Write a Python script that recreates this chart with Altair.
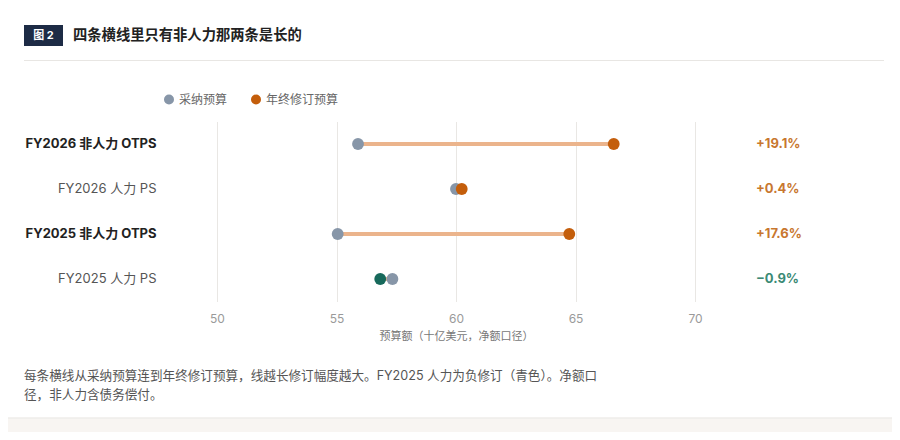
import altair as alt
import pandas as pd

# ---- data ----
rows = ["FY2026 非人力 OTPS", "FY2026 人力 PS", "FY2025 非人力 OTPS", "FY2025 人力 PS"]
adopted = [55.9, 60.0, 55.05, 57.34]
revised = [66.6, 60.24, 64.74, 56.83]
pct_labels = ["+19.1%", "+0.4%", "+17.6%", "−0.9%"]
revised_keys = ["年终修订预算", "年终修订预算", "年终修订预算", "负修订"]
pct_colors = ["#c8772f", "#c8772f", "#c8772f", "#3b8a75"]
x_ticks = [50, 55, 60, 65, 70]

series_names = ["采纳预算", "年终修订预算", "负修订"]
series_colors = ["#8796a8", "#c45e0b", "#17695b"]
legend_names = ["采纳预算", "年终修订预算"]

title_text = "四条横线里只有非人力那两条是长的"
badge_text = "图 2"
x_title = "预算额（十亿美元，净额口径）"
caption_lines = [
    "每条横线从采纳预算连到年终修订预算，线越长修订幅度越大。FY2025 人力为负修订（青色）。净额口",
    "径，非人力含债务偿付。",
]

FONT = "Inter, 'Noto Sans CJK SC', sans-serif"

# ---- tables ----
seg = pd.DataFrame({"row": rows, "adopted": adopted, "revised": revised})
pts = pd.DataFrame({
    "row": rows * 2,
    "value": adopted + revised,
    "key": ["采纳预算"] * 4 + revised_keys,
}).sort_values("value").reset_index(drop=True)
pct = pd.DataFrame({"row": rows, "label": pct_labels, "col": pct_colors})
one = pd.DataFrame({"a": [0]})

y_enc = alt.Y(
    "row:N",
    sort=rows,
    axis=alt.Axis(
        title=None, domain=False, ticks=False, grid=False,
        labelPadding=61, labelFontSize=13, labelLimit=300,
        labelFontWeight={"condition": {"test": "indexof(datum.value, 'OTPS') >= 0", "value": "bold"}, "value": "normal"},
        labelColor={"condition": {"test": "indexof(datum.value, 'OTPS') >= 0", "value": "#222222"}, "value": "#555555"},
    ),
)

x_scale = alt.Scale(domain=[50, 70], nice=False, zero=False)

# decorative card
card = alt.Chart(one).mark_rect(fillOpacity=0, stroke="#e6e3df", strokeWidth=1).encode(
    x=alt.value(-215), x2=alt.value(720), y=alt.value(-118.5), y2=alt.value(296.5)
)
strip = alt.Chart(one).mark_rect(color="#f8f5f2").encode(
    x=alt.value(-230), x2=alt.value(720), y=alt.value(297), y2=alt.value(330)
)
badge = alt.Chart(one).mark_rect(color="#1d2b45").encode(
    x=alt.value(-193), x2=alt.value(-154), y=alt.value(-96.5), y2=alt.value(-75.5)
)
badge_t = alt.Chart(one).mark_text(
    text=badge_text, color="white", fontSize=11, fontWeight="bold", align="center", baseline="middle"
).encode(x=alt.value(-173.5), y=alt.value(-86))
title_t = alt.Chart(one).mark_text(
    text=title_text, color="#222222", fontSize=14.3, fontWeight="bold", align="left", baseline="middle"
).encode(x=alt.value(-144), y=alt.value(-86))
divider = alt.Chart(one).mark_rule(color="#e8e6e3", strokeWidth=1).encode(
    x=alt.value(-193), x2=alt.value(667), y=alt.value(-61)
)
caption = alt.Chart(one).mark_text(
    text=caption_lines, color="#555555", fontSize=12.6, align="left", baseline="top", lineHeight=19
).encode(x=alt.value(-193), y=alt.value(248.5))

# data layers
rules = alt.Chart(seg).mark_rule(strokeWidth=4, color="#ebb48c").encode(
    x=alt.X(
        "adopted:Q", scale=x_scale,
        axis=alt.Axis(
            values=x_ticks, title=x_title, grid=True, gridColor="#e9e7e4", domain=False, ticks=False,
            labelColor="#9a9a9a", labelFontSize=12, labelPadding=12, labelFlush=False,
            titleColor="#777777", titleFontSize=11, titleFontWeight="normal", titlePadding=6,
        ),
    ),
    x2="revised:Q",
    y=y_enc,
)

points = alt.Chart(pts).mark_circle(size=140, opacity=1).encode(
    x=alt.X("value:Q", scale=x_scale),
    y=alt.Y("row:N", sort=rows),
    color=alt.Color(
        "key:N",
        scale=alt.Scale(domain=series_names, range=series_colors),
        legend=alt.Legend(
            values=legend_names, orient="none", legendX=-54, legendY=-28, direction="horizontal",
            title=None, symbolType="circle", symbolSize=100, labelFontSize=12, labelColor="#666666",
            columnPadding=22, labelOffset=4, symbolStrokeWidth=0,
        ),
    ),
)

pct_t = alt.Chart(pct).mark_text(
    fontSize=13, fontWeight="bold", align="left", baseline="middle"
).encode(
    x=alt.value(539),
    y=alt.Y("row:N", sort=rows),
    text="label:N",
    color=alt.Color("col:N", scale=None),
)

chart = alt.layer(
    strip, card, badge, badge_t, title_t, divider, rules, points, pct_t, caption
).properties(
    width=478, height=180,
    autosize=alt.AutoSizeParams(type="none"),
    padding={"left": 209, "top": 113.5, "right": 197, "bottom": 130.5},
).configure(
    font=FONT, background="white"
).configure_view(stroke=None)

chart.save("out.html", embed_options={"renderer": "svg", "actions": False})
